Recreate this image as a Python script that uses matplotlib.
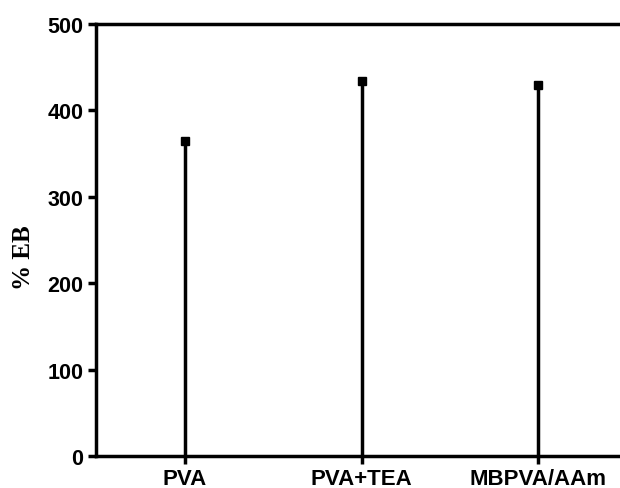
import matplotlib.pyplot as plt
import numpy as np

samples = ['PVA', 'PVA+TEA', 'MBPVA/AAm']
eb = [365, 434, 429]

fig = plt.figure(figsize=(6.2, 4.89), dpi=100)
ax = fig.add_axes([96/620, 1-457/489, 1-96/620, (457-25)/489])

x = np.arange(len(samples))
ax.vlines(x, 0, eb, color='black', lw=2.5)
ax.plot(x, eb, 's', color='black', ms=6)

ax.set_xlim(-0.503, 2.463)
ax.set_ylim(0, 500)
ax.set_yticks([0, 100, 200, 300, 400, 500])
ax.set_xticks(x)
ax.set_xticklabels(samples)

for s in ['left', 'bottom', 'top']:
	ax.spines[s].set_linewidth(2.5)
ax.spines['right'].set_visible(False)
ax.tick_params(direction='out', length=6, width=2.5, pad=3)
for lab in ax.get_xticklabels():
	lab.set_fontfamily('Liberation Sans')
	lab.set_fontweight('bold')
	lab.set_fontsize(16)
for lab in ax.get_yticklabels():
	lab.set_fontfamily('Liberation Sans')
	lab.set_fontweight('bold')
	lab.set_fontsize(15.5)

# y label placed by hand to match the original position
fig.text(23/620, 1-258/489, '% EB', rotation=90, family='Liberation Serif', fontweight='bold',
	fontsize=18, ha='center', va='center')

fig.savefig('out.png', dpi=100)
